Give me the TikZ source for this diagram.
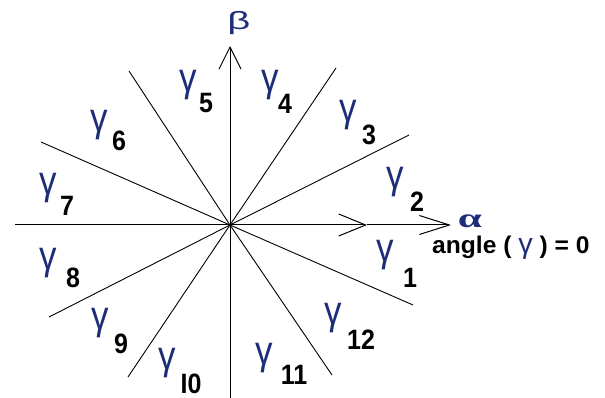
\documentclass[tikz,border=0pt]{standalone}
\usepackage{fontspec}
\setmainfont{Liberation Sans}
\newfontfamily\greekserif{Liberation Serif}
\usetikzlibrary{arrows.meta}
\definecolor{greekblue}{RGB}{30,45,120}

\tikzset{
  axis/.style={line width=1pt},
  sector/.style={line width=0.9pt},
  gam/.style={text=greekblue, inner sep=0pt, yscale=1.15, font=\fontsize{35}{35}\selectfont},
  idx/.style={inner sep=0pt, yscale=1.12, font=\fontsize{25}{25}\selectfont\bfseries},
}

\begin{document}
\begin{tikzpicture}[x=1pt, y=-1pt]
  \useasboundingbox (0,0) rectangle (605,398);

  \coordinate (O) at (230,225);
  \coordinate (W) at (15,225);
  \coordinate (M) at (367,225);
  \coordinate (E) at (451,225);
  \coordinate (S) at (230,398);
  \coordinate (N) at (230,46);

  % axes
  \draw[axis] (W) -- (O);
  \draw[axis, -{Straight Barb[length=27pt, width=22pt]}] (O) -- (M);
  \draw[axis, -{Straight Barb[length=30pt, width=19pt]}] (M) -- (E);
  \draw[axis, -{Straight Barb[length=22pt, width=22pt]}] (S) -- (N);

  % sector borders
  \coordinate (A1) at (409,135);
  \coordinate (A2) at (49,317);
  \coordinate (B1) at (41,142);
  \coordinate (B2) at (413,305);
  \coordinate (C1) at (336,68);
  \coordinate (C2) at (128,377);
  \coordinate (D1) at (129,71);
  \coordinate (D2) at (332,375);
  \draw[sector] (A1) -- (O) -- (A2);
  \draw[sector] (B1) -- (O) -- (B2);
  \draw[sector] (C1) -- (O) -- (C2);
  \draw[sector] (D1) -- (O) -- (D2);

  \node[text=greekblue, inner sep=0pt, xscale=1.6,
        font=\fontsize{25}{25}\selectfont] (beta) at (239,23) {β};
  \node[text=greekblue, inner sep=0pt, xscale=1.6,
        font=\greekserif\bfseries\fontsize{27}{27}\selectfont] (alpha) at (470,221) {α};
  \node[anchor=base west, inner sep=0pt, xscale=1.07, yscale=1.05,
        font=\fontsize{23}{23}\selectfont\bfseries] (zero) at (432,253)
        {angle ( {\color{greekblue}\mdseries\fontsize{27}{27}\selectfont γ} ) = 0};

  % sector labels
  \foreach \n/\t/\gx/\gy/\sx/\sy in {1/1/385/255/410/278, 2/2/395/182/417/202,
      3/3/348/115/369/135, 4/4/270/85/285/104, 5/5/188/85/206/103,
      6/6/99/125/119/141, 7/7/48/188/67/206, 8/8/48/263/73/278,
      9/9/100/323/121/344, 10/I0/167/363/191/384, 11/11/264/358/294/375,
      12/12/333/318/361/340}
  {
    \node[gam] (g\n) at (\gx,\gy) {γ};
    \node[idx] (s\n) at (\sx,\sy) {\t};
  }
\end{tikzpicture}
\end{document}
